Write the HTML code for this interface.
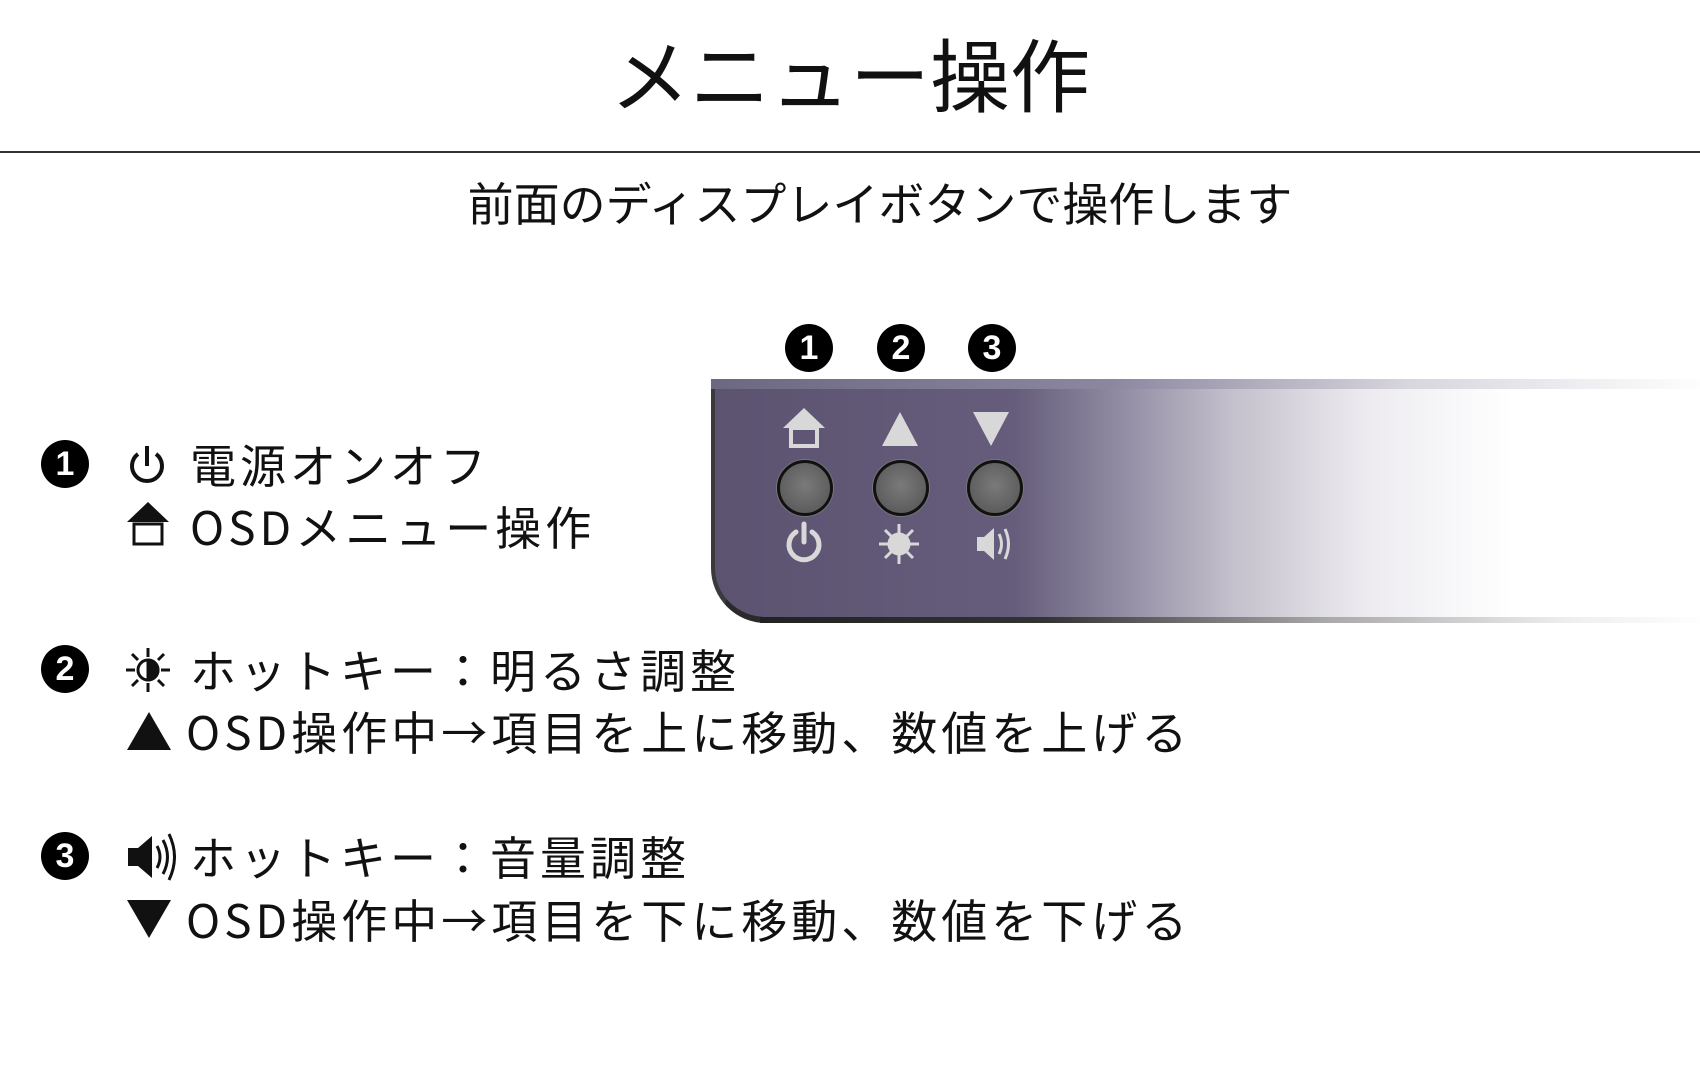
<!DOCTYPE html>
<html><head><meta charset="utf-8"><style>
body{margin:0;width:1700px;height:1072px;background:#fff;position:relative;overflow:hidden;font-family:"Liberation Sans","Noto Sans CJK JP",sans-serif;color:#111}
.a{position:absolute;white-space:nowrap}
.num{position:absolute;width:48px;height:48px;border-radius:50%;background:#000;color:#fff;font-weight:bold;font-size:34px;line-height:48px;text-align:center}
.t{position:absolute;font-size:46px;line-height:56px;white-space:nowrap;font-family:"Noto Sans CJK JP",sans-serif;letter-spacing:4px}
.btn{position:absolute;width:50px;height:50px;border-radius:50%;background:radial-gradient(circle at 50% 45%,#7a7a7a,#5e5e5e 70%);border:3px solid #111;box-shadow:0 0 0 1px #777}
</style></head><body>
<div class="a" style="left:0;width:1700px;top:22px;text-align:center;font-size:80px;line-height:100px;font-family:'Noto Sans CJK JP',sans-serif">メニュー操作</div>
<div class="a" style="left:0;top:151px;width:1700px;height:2px;background:#333"></div>
<div class="a" style="left:30px;width:1700px;top:172px;text-align:center;font-size:46px;line-height:60px;font-family:'Noto Sans CJK JP',sans-serif">前面のディスプレイボタンで操作します</div>

<!-- panel -->
<div class="a" style="left:711px;top:379px;width:1000px;height:244px;border-bottom-left-radius:55px;background:linear-gradient(90deg,#5b5370 0%,#655d7b 30%,#8e88a0 40%,#c4c0cc 52%,#eceaef 65%,#fff 80%);border-left:4px solid #3a3a3a;border-bottom:6px solid #2a2a2a;box-sizing:border-box"></div>
<div class="a" style="left:711px;top:379px;width:1000px;height:10px;background:linear-gradient(90deg,#6d6882,#8c87a0 40%,#d8d6de 70%,#fff 100%)"></div>
<div class="a" style="left:760px;top:617px;width:950px;height:6px;background:linear-gradient(90deg,#222 0%,#333 30%,#aaa 60%,#eee 85%,#fff 100%)"></div>

<div class="num" style="left:785px;top:324px">1</div>
<div class="num" style="left:877px;top:324px">2</div>
<div class="num" style="left:968px;top:324px">3</div>

<svg class="a" style="left:700px;top:400px" width="400" height="180">
<g fill="#d8d8d8">
<polygon points="104,8 83,28 125,28"/>
<rect x="91" y="28" width="26" height="18" fill="none" stroke="#d8d8d8" stroke-width="4"/>
<polygon points="200,12 182,46 218,46"/>
<polygon points="273,12 309,12 291,46"/>
</g>
<g fill="none" stroke="#d8d8d8" stroke-width="5" stroke-linecap="round">
<path d="M96,132 A15,15 0 1 0 112,132"/>
<line x1="104" y1="124" x2="104" y2="142"/>
</g>
<g stroke="#d8d8d8" stroke-width="3">
<circle cx="199" cy="144" r="10" fill="#d8d8d8"/>
<line x1="199" y1="124" x2="199" y2="164"/><line x1="179" y1="144" x2="219" y2="144"/>
<line x1="185" y1="130" x2="213" y2="158"/><line x1="213" y1="130" x2="185" y2="158"/>
</g>
<g fill="#d8d8d8"><polygon points="277,137 284,137 294,128 294,160 284,151 277,151"/></g>
<g fill="none" stroke="#d8d8d8" stroke-width="3"><path d="M299,134 Q304,144 299,154"/><path d="M305,129 Q312,144 305,159"/></g>
</svg>
<div class="btn" style="left:777px;top:460px"></div>
<div class="btn" style="left:873px;top:460px"></div>
<div class="btn" style="left:967px;top:460px"></div>

<!-- list -->
<div class="num" style="left:41px;top:440px">1</div>
<svg class="a" style="left:126px;top:442px" width="42" height="46"><g fill="none" stroke="#111" stroke-width="4"><path d="M12,12 A15,15 0 1 0 30,12"/><line x1="21" y1="4" x2="21" y2="24"/></g></svg>
<div class="t" style="left:190px;top:436px">電源オンオフ</div>
<svg class="a" style="left:125px;top:500px" width="46" height="48"><polygon points="23,2 2,22 44,22" fill="#111"/><rect x="9" y="24" width="28" height="20" fill="none" stroke="#111" stroke-width="3"/></svg>
<div class="t" style="left:190px;top:498px">OSDメニュー操作</div>

<div class="num" style="left:41px;top:645px">2</div>
<svg class="a" style="left:124px;top:646px" width="48" height="48"><g stroke="#111" stroke-width="3"><circle cx="24" cy="24" r="10" fill="none" stroke-width="3"/><path d="M24,14 A10,10 0 0 1 24,34 Z" fill="#111"/><line x1="24" y1="2" x2="24" y2="11"/><line x1="24" y1="37" x2="24" y2="46"/><line x1="2" y1="24" x2="11" y2="24"/><line x1="37" y1="24" x2="46" y2="24"/><line x1="8" y1="8" x2="14" y2="14"/><line x1="34" y1="34" x2="40" y2="40"/><line x1="40" y1="8" x2="34" y2="14"/><line x1="8" y1="40" x2="14" y2="34"/></g></svg>
<div class="t" style="left:190px;top:641px">ホットキー：明るさ調整</div>
<svg class="a" style="left:125px;top:710px" width="48" height="42"><polygon points="24,2 2,40 46,40" fill="#111"/></svg>
<div class="t" style="left:186px;top:703px">OSD操作中→項目を上に移動、数値を上げる</div>

<div class="num" style="left:41px;top:832px">3</div>
<svg class="a" style="left:126px;top:830px" width="50" height="54"><polygon points="2,18 12,18 26,6 26,48 12,36 2,36" fill="#111"/><g fill="none" stroke="#111" stroke-width="3"><path d="M31,16 Q37,27 31,38"/><path d="M37,10 Q46,27 37,44"/><path d="M43,4 Q54,27 43,50"/></g></svg>
<div class="t" style="left:190px;top:828px">ホットキー：音量調整</div>
<svg class="a" style="left:125px;top:898px" width="48" height="42"><polygon points="2,2 46,2 24,40" fill="#111"/></svg>
<div class="t" style="left:186px;top:891px">OSD操作中→項目を下に移動、数値を下げる</div>
</body></html>
